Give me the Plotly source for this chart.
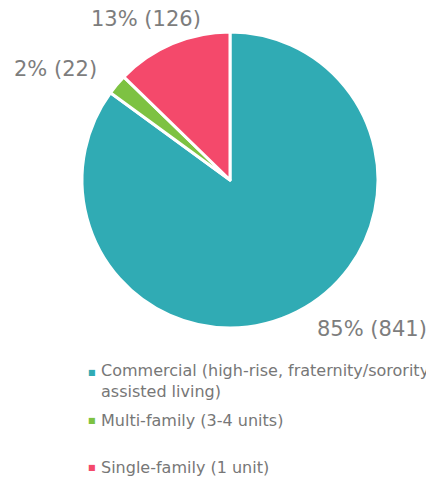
import plotly.graph_objects as go

categories = [
    "Commercial (high-rise, fraternity/sorority,<br>assisted living)",
    "Multi-family (3-4 units)",
    "Single-family (1 unit)",
]
values = [841, 22, 126]
colors = ["#30abb4", "#7dc242", "#f4496b"]

total = sum(values)
label_texts = [f"{round(100 * v / total)}% ({v})" for v in values]

W, H = 434, 481
OFF = 8  # page body margin


def px_x(px):
    return (px - OFF) / W


def px_y(py):
    return 1 - (py - OFF) / H


CX, CY, R = 230, 180, 148

fig = go.Figure()
fig.add_trace(go.Pie(
    labels=categories,
    values=values,
    sort=False,
    direction="clockwise",
    rotation=0,
    marker=dict(colors=colors, line=dict(color="white", width=3)),
    textinfo="none",
    showlegend=False,
    domain=dict(x=[px_x(CX - R), px_x(CX + R)],
                y=[px_y(CY + R), px_y(CY - R)]),
    hoverinfo="label+value+percent",
))

# outside value labels (pixel centres from top-left)
label_pos = [(372, 329), (55, 69), (146, 19)]
anns = []
for txt, (px, py) in zip(label_texts, label_pos):
    anns.append(dict(
        x=px_x(px), y=px_y(py), xref="paper", yref="paper",
        text=txt, showarrow=False, xanchor="center", yanchor="middle",
        font=dict(family="DejaVu Sans", size=21, color="#7d7d7d"),
    ))

# legend drawn as annotations
legend_y = [372, 420, 467]
LINE = 20.8
for cat, col, py in zip(categories, colors, legend_y):
    n = cat.count("<br>")
    anns.append(dict(
        x=px_x(92), y=px_y(py), xref="paper", yref="paper",
        text="■", showarrow=False, xanchor="center", yanchor="middle",
        font=dict(family="DejaVu Sans", size=8, color=col),
    ))
    anns.append(dict(
        x=px_x(99), y=px_y(py + n * 17 / 2), xref="paper", yref="paper",
        text=cat, showarrow=False, xanchor="left", yanchor="middle",
        align="left",
        font=dict(family="DejaVu Sans", size=16, color="#777777"),
    ))

fig.update_layout(
    width=W, height=H,
    margin=dict(l=0, r=0, t=0, b=0),
    paper_bgcolor="white", plot_bgcolor="white",
    annotations=anns,
)

fig.write_html("out.html")
